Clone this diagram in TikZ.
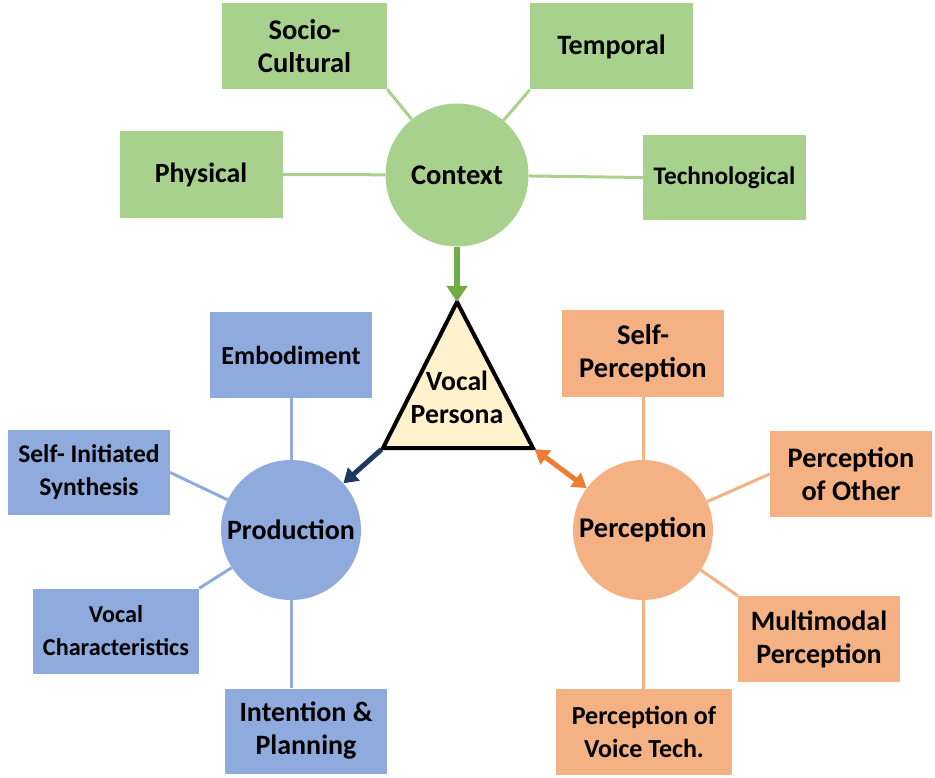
\documentclass[tikz,border=0pt]{standalone}
\usepackage{fontspec}
\setmainfont{Carlito}
\usetikzlibrary{arrows.meta,calc}
\definecolor{gfill}{HTML}{A9D18E}
\definecolor{bfill}{HTML}{8FAADC}
\definecolor{ofill}{HTML}{F4B183}
\definecolor{garrow}{HTML}{70AD47}
\definecolor{barrow}{HTML}{203864}
\definecolor{oarrow}{HTML}{ED7D31}
\definecolor{yfill}{HTML}{FFF2CC}
\tikzset{
  fsz/.style={font=\fontsize{#1}{33}\selectfont\bfseries},
  txt/.style={fsz=28, align=center, text=black},
  box/.style={txt, rectangle, inner sep=0pt, minimum width=#1},
  gbox/.style={box=163pt, fill=gfill, minimum height=86pt},
  bbox/.style={box=163pt, fill=bfill, minimum height=86pt},
  obox/.style={box=163pt, fill=ofill, minimum height=86pt},
  hub/.style={txt, circle, inner sep=0pt, minimum size=#1},
  gline/.style={draw=gfill, line width=3pt},
  bline/.style={draw=bfill, line width=3pt},
  oline/.style={draw=ofill, line width=3pt},
}
\begin{document}
\begin{tikzpicture}[x=1pt,y=-1pt]
\useasboundingbox (0,0) rectangle (935,778);
% Context cluster
\node[hub=143pt, fill=gfill, fsz=28.5] (ctx) at (457,175) {Context};
\node[gbox, minimum width=165pt, fsz=28.5] (soc) at (304.5,46) {Socio-\\Cultural};
\node[gbox] (tem) at (611.5,46.5) {Temporal};
\node[gbox, minimum height=87pt, fsz=27.8] (phy) at (201,174.5) {Physical};
\node[gbox, minimum height=85pt, fsz=25.3] (tec) at (724.5,177.5) {Technological};
\draw[gline] (soc.south east) -- (ctx);
\draw[gline] (tem.south west) -- (ctx);
\draw[gline] (phy.east) -- (ctx);
\draw[gline] (tec.west) -- (ctx);
% Vocal Persona triangle
\coordinate (apex) at (457,302);
\coordinate (bl) at (383,448);
\coordinate (br) at (533,448);
\draw[line width=4pt, fill=yfill, line join=miter] (apex) -- (bl) -- (br) -- cycle;
\node[txt, fsz=27.8] (vp) at (457,397) {Vocal\\Persona};
% Production cluster
\node[hub=140pt, fill=bfill] (prod) at (291,530) {Production};
\node[bbox, minimum width=162pt, fsz=26] (emb) at (291,355) {Embodiment};
\node[bbox, minimum width=162pt, minimum height=85pt, fsz=25.5] (sis) at (89,472.5) {Self- Initiated\\Synthesis};
\node[bbox, minimum width=166pt, minimum height=85pt, fsz=24.2] (vc) at (116,631) {Vocal\\Characteristics};
\node[bbox, minimum width=162pt, minimum height=85pt] (ip) at (306,731) {Intention \&\\Planning};
\draw[bline] (emb) -- (prod);
\draw[bline] (sis.east) -- (prod);
\draw[bline] (vc.north east) -- (prod);
\draw[bline] (prod) -- (prod |- ip.north);
% Perception cluster
\node[hub=140pt, fill=ofill, fsz=28.5] (perc) at (643,530) {Perception};
\node[obox, minimum width=162pt, minimum height=87pt, fsz=28.5] (sp) at (643,353.5) {Self-\\Perception};
\node[obox, minimum width=162pt, fsz=28.3] (po) at (851,474) {Perception\\of Other};
\node[obox, minimum width=162pt] (mm) at (819,639) {Multimodal\\Perception};
\node[obox, minimum width=176pt, minimum height=86pt, fsz=26] (pvt) at (644,732) {Perception of\\Voice Tech.};
\draw[oline] (sp) -- (perc);
\draw[oline] (po.west) -- (perc);
\draw[oline] (mm.north west) -- (perc);
\draw[oline] (perc) -- (perc |- pvt.north);
% Arrows
\draw[draw=garrow, line width=6pt, -{Triangle[width=20pt,length=16pt]}] (ctx) -- (apex);
\draw[draw=barrow, line width=5pt, -{Triangle[width=17pt,length=14pt]}, shorten <=2pt] (bl) -- (prod);
\draw[draw=oarrow, line width=5pt, {Triangle[width=17pt,length=14pt]}-{Triangle[width=17pt,length=14pt]}, shorten <=2pt] (br) -- (perc);
\end{tikzpicture}
\end{document}
